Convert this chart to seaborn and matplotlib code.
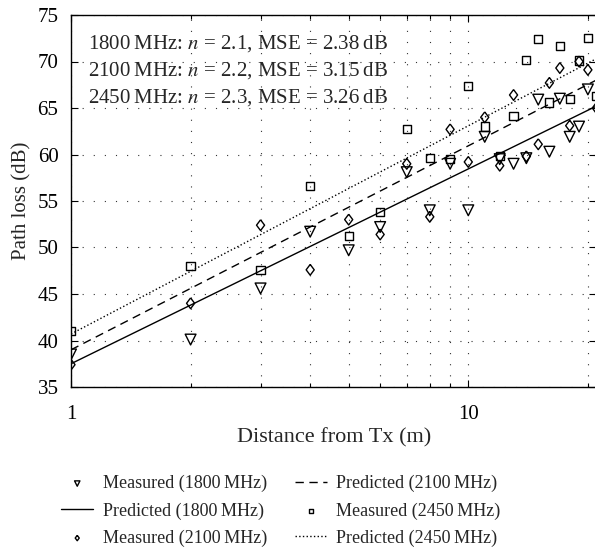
import numpy as np
import pandas as pd
import seaborn as sns
import matplotlib.pyplot as plt

# measured points
dist = [1, 2, 3, 4, 5, 6, 7, 8, 9, 10, 11, 12, 13, 14, 15, 16, 17, 18, 19, 20]
meas_1800 = [38.5, 40.1, 45.6, 51.7, 49.7, 52.2, 58.1, 54.0, 59.0, 54.0,
             61.9, 59.5, 59.0, 59.6, 65.9, 60.3, 66.0, 61.9, 63.0, 67.0]
meas_2100 = [37.4, 44.0, 52.4, 47.6, 53.0, 51.4, 59.0, 53.3, 62.7, 59.2,
             64.0, 58.8, 66.4, 59.8, 61.1, 67.7, 69.3, 63.1, 70.0, 69.1]
meas_2450 = [41.0, 48.0, 47.6, 56.6, 51.2, 53.8, 62.7, 59.6, 59.5, 67.4,
             63.0, 59.8, 64.1, 70.2, 72.4, 65.6, 71.7, 66.0, 70.1, 72.5]
# extra points at the right edge (21 m)
extra_d = [21, 21]
extra_freq = ['2100', '2450']
extra_pl = [65.0, 66.3]

# predicted lines (end points)
pred_d = [1, 21]
pred_1800 = [37.5, 65.2]
pred_2100 = [39.0, 68.0]
pred_2450 = [40.7, 70.3]

notes = ['1800\u2009MHz: $n$ = 2.1, MSE = 2.38\u2009dB',
         '2100\u2009MHz: $n$ = 2.2, MSE = 3.15\u2009dB',
         '2450\u2009MHz: $n$ = 2.3, MSE = 3.26\u2009dB']

meas = pd.DataFrame({
    'd': dist * 3 + extra_d,
    'pl': meas_1800 + meas_2100 + meas_2450 + extra_pl,
    'freq': ['1800'] * 20 + ['2100'] * 20 + ['2450'] * 20 + extra_freq,
})
pred = pd.DataFrame({
    'd': pred_d * 3,
    'pl': pred_1800 + pred_2100 + pred_2450,
    'freq': ['1800'] * 2 + ['2100'] * 2 + ['2450'] * 2,
})

sns.set_style('ticks')
plt.rcParams['font.family'] = ['Liberation Serif', 'DejaVu Serif']
plt.rcParams['mathtext.fontset'] = 'stix'

fig = plt.figure(figsize=(5.95, 5.5), dpi=100)
ax = fig.add_axes([71 / 595, 1 - 387 / 550, 525.3 / 595, 372 / 550])

# wider diamond than matplotlib's 'd'
diamond = [(0, 1), (0.75, 0), (0, -1), (-0.75, 0), (0, 1)]
markers = {'1800': 'v', '2100': diamond, '2450': 's'}
sizes = {'1800': 60, '2100': 60, '2450': 35}
styles = {'1800': '-', '2100': (0, (6, 4)), '2450': ':'}

for f in ['1800', '2100', '2450']:
    sub = meas[meas['freq'] == f]
    sns.scatterplot(data=sub, x='d', y='pl', marker=markers[f], s=sizes[f],
                    facecolor='none', edgecolor='black', linewidth=1.0,
                    ax=ax, label='Measured (%s\u2009MHz)' % f, zorder=3)
    sub = pred[pred['freq'] == f]
    sns.lineplot(data=sub, x='d', y='pl', color='black', linewidth=1.0,
                 linestyle=styles[f], ax=ax,
                 label='Predicted (%s\u2009MHz)' % f)

ax.set_xscale('log')
ax.set_xlim(1, 21)
ax.set_ylim(35, 75)
ax.set_yticks(range(35, 80, 5))
ax.set_xticks([1, 10])
ax.set_xticklabels(['1', '10'])
ax.set_xticks([2, 3, 4, 5, 6, 7, 8, 9, 20], minor=True)
ax.xaxis.set_minor_formatter(plt.NullFormatter())
ax.grid(True, which='both', axis='x', color='#333333', linestyle=(0, (1, 9)), linewidth=0.8)
ax.grid(True, which='major', axis='y', color='#333333', linestyle=(0, (1, 9)), linewidth=0.8)
ax.tick_params(direction='in', which='both', top=True, right=True, labelsize=15,
               width=0.8, colors='black')
ax.tick_params(which='major', length=5)
ax.tick_params(which='minor', length=3)
ax.tick_params(axis='x', which='major', pad=13)
ax.tick_params(axis='y', which='major', pad=9)
for s in ax.spines.values():
    s.set_linewidth(1.0)
    s.set_color('black')

ax.set_xlabel('Distance from Tx (m)', fontsize=16, labelpad=3)
ax.set_ylabel('Path loss (dB)', fontsize=15, labelpad=4)

for i, t in enumerate(notes):
    ax.text(0.032, 0.922 - i * 0.0715, t, transform=ax.transAxes, fontsize=15,
            va='center', ha='left')

h, l = ax.get_legend_handles_labels()
ax.legend(h, l, loc='upper left',
          bbox_to_anchor=(-0.05, -0.193), ncol=2, frameon=False, fontsize=13,
          handlelength=1.8, markerscale=0.5, columnspacing=1.55,
          labelspacing=0.55, handletextpad=0.5)

fig.savefig('out.png', dpi=100)
